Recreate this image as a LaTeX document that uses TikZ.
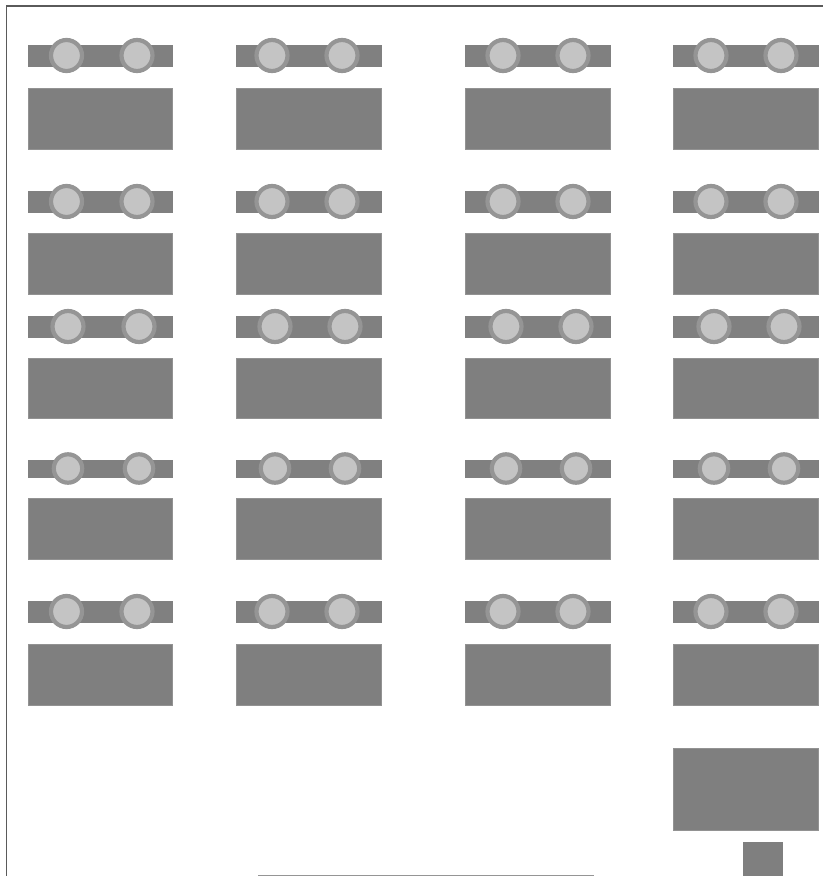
\documentclass[tikz,border=0pt]{standalone}
\tikzset{
  block/.style={fill=blockgrey,draw=blockgrey!85!white,line width=1pt},
  bar/.style={fill=bargrey,draw=none},
  hub/.style={fill=hubgrey,draw=ringgrey,line width=4.2pt},
  frame/.style={draw=framegrey,line width=1.3pt}
}
\definecolor{blockgrey}{HTML}{7F7F7F}
\definecolor{bargrey}{HTML}{808080}
\definecolor{hubgrey}{HTML}{C4C4C4}
\definecolor{ringgrey}{HTML}{959595}
\definecolor{framegrey}{HTML}{5A5A5A}
\begin{document}
\begin{tikzpicture}[x=1pt,y=-1pt]
\useasboundingbox (0,0) rectangle (823,876);
\fill[white] (0,0) rectangle (823,876);
\draw[frame] (6.5,876) -- (6.5,6) -- (823,6);
% columns: left/right edge, hub x in rows 1,2,5 and in rows 3,4
\foreach \xa/\xb/\ha/\hb/\hc/\hd in {
  28/173/66.5/137/68/139,
  236/382/272/342/275/345,
  465/611/503/573/506/576,
  673/819/711/781/714/784}{
  % rows: bar top/bottom, block top/bottom, hub radius, which hub set
  \foreach \ba/\bb/\ra/\rb/\rr/\sh in {
    45/67/88/150/15.5/0,
    191/213/233/295/15.5/0,
    316/338/358/419/15.5/1,
    460/478/498/560/14.2/1,
    601/623/644/706/15.5/0}{
    \fill[bar] (\xa,\ba) rectangle (\xb,\bb);
    \draw[block] (\xa+0.5,\ra+0.5) rectangle (\xb-0.5,\rb-0.5);
    \pgfmathsetmacro{\hx}{\sh==1 ? \hc : \ha}
    \pgfmathsetmacro{\hy}{\sh==1 ? \hd : \hb}
    \pgfmathsetmacro{\cy}{(\ba+\bb)/2-0.5}
    \draw[hub] (\hx,\cy) circle[radius=\rr];
    \draw[hub] (\hy,\cy) circle[radius=\rr];
  }
}
\draw[block] (673.5,748.5) rectangle (818.5,830);
\fill[blockgrey] (743,842) rectangle (783,876);
\fill[ringgrey] (258,874.5) rectangle (594,876);
\end{tikzpicture}
\end{document}
